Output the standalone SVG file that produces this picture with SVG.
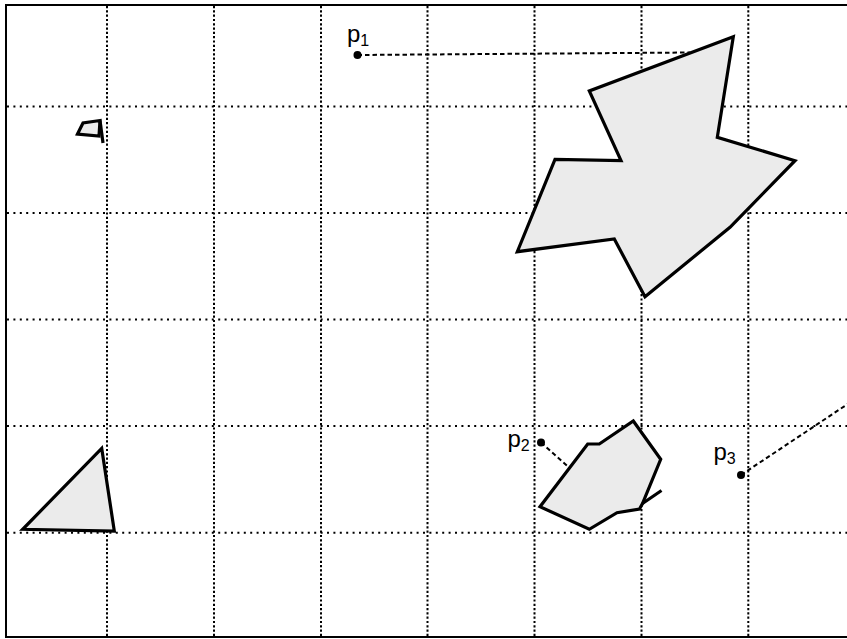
<svg xmlns="http://www.w3.org/2000/svg" width="847" height="639" viewBox="0 0 847 639">
<style>
.bg{fill:#ffffff}
.frame{fill:none;stroke:#000;stroke-width:2}
.gv{stroke:#000;stroke-width:2;stroke-dasharray:2.2,2.1;fill:none}
.gh{stroke:#000;stroke-width:2;stroke-dasharray:2,4.4;fill:none}
.poly{fill:#ebebeb;stroke:#000;stroke-width:3.2;stroke-linejoin:miter;stroke-miterlimit:4}
.conn{stroke:#000;stroke-width:2;stroke-dasharray:4.5,3;fill:none}
.pt{fill:#000}
.lbl{font-family:"Liberation Sans",Arial,sans-serif;font-size:24px;fill:#000}
.sub{font-size:16px}
</style>
<rect class="bg" x="0" y="0" width="847" height="639"/>
<g id="grid">
<line class="gv" x1="107" y1="6" x2="107" y2="637"/>
<line class="gv" x1="214" y1="6" x2="214" y2="637"/>
<line class="gv" x1="321" y1="6" x2="321" y2="637"/>
<line class="gv" x1="427.5" y1="6" x2="427.5" y2="637"/>
<line class="gv" x1="534.5" y1="6" x2="534.5" y2="637"/>
<line class="gv" x1="641.5" y1="6" x2="641.5" y2="637"/>
<line class="gv" x1="748.3" y1="6" x2="748.3" y2="637"/>
<line class="gh" x1="7" y1="106.5" x2="847" y2="106.5"/>
<line class="gh" x1="7" y1="213" x2="847" y2="213"/>
<line class="gh" x1="7" y1="319.5" x2="847" y2="319.5"/>
<line class="gh" x1="7" y1="426" x2="847" y2="426"/>
<line class="gh" x1="7" y1="532.7" x2="847" y2="532.7"/>
</g>
<rect class="frame" x="6" y="5" width="860" height="632"/>
<g id="connectors">
<line class="conn" x1="357.5" y1="55" x2="690" y2="52.5"/>
<line class="conn" x1="541" y1="442.5" x2="568" y2="466.5"/>
<line class="conn" x1="741" y1="475" x2="850" y2="402.5"/>
</g>
<g id="poly-big">
<polygon class="poly" points="733.3,36.7 589.3,91 621,160.7 555,159.3 517.3,251.7 614.3,239 645,296.7 730,227.3 795,160.7 717.3,137.3"/>
</g>
<g id="poly-tiny">
<polygon class="poly" points="77.5,134 83,123 100,120.5 99,136"/>
<line x1="100" y1="120.5" x2="103" y2="143" stroke="#000" stroke-width="3.2"/>
</g>
<g id="poly-triangle">
<polygon class="poly" points="101.7,448.3 114.3,531 22.7,529.3"/>
</g>
<g id="poly-p2">
<polygon class="poly" points="633.3,421 660.7,459.3 642.5,503.5 639.5,509 617,512.7 589.3,529.3 540,506.7 587.7,444 599.3,444"/>
<line x1="642.5" y1="503.5" x2="661.5" y2="490.5" stroke="#000" stroke-width="3.2" stroke-linecap="butt"/>
</g>
<g id="p1">
<circle class="pt" cx="357.5" cy="55" r="4"/>
<text class="lbl" x="347" y="42">p<tspan class="sub" dy="4">1</tspan></text>
</g>
<g id="p2">
<circle class="pt" cx="541" cy="442.5" r="4"/>
<text class="lbl" x="507.5" y="447">p<tspan class="sub" dy="4">2</tspan></text>
</g>
<g id="p3">
<circle class="pt" cx="741" cy="475" r="4"/>
<text class="lbl" x="713.5" y="460">p<tspan class="sub" dy="4">3</tspan></text>
</g>
</svg>
